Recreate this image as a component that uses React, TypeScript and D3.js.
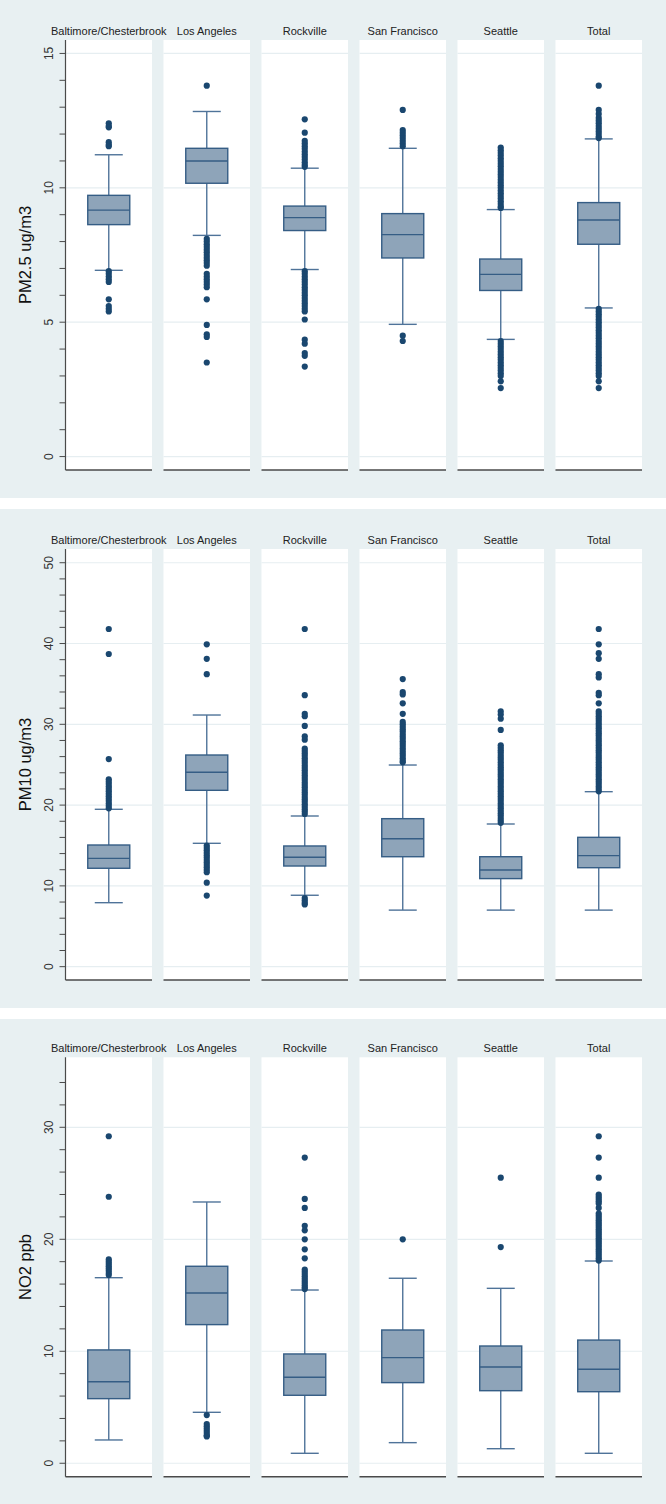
import React from "react";
import * as d3 from "d3";

const sites = ["Baltimore/Chesterbrook", "Los Angeles", "Rockville", "San Francisco", "Seattle", "Total"];

// PM2.5
const pm25Lo = [6.93, 8.23, 6.96, 4.92, 4.36, 5.53];
const pm25Q1 = [8.63, 10.17, 8.41, 7.39, 6.18, 7.9];
const pm25Med = [9.17, 11.0, 8.89, 8.26, 6.78, 8.8];
const pm25Q3 = [9.72, 11.47, 9.32, 9.04, 7.35, 9.45];
const pm25Hi = [11.23, 12.84, 10.73, 11.47, 9.19, 11.82];
const pm25Out = [
  [12.4, 12.3, 12.25, 11.7, 11.6, 11.55, 6.9, 6.8, 6.7, 6.6, 6.5, 5.85, 5.6, 5.5, 5.4],
  [13.8, 8.1, 8.0, 7.9, 7.8, 7.7, 7.6, 7.5, 7.4, 7.3, 7.2, 7.1, 6.8, 6.7, 6.6, 6.5, 6.4, 6.3, 5.85, 4.9, 4.55, 4.45, 3.5],
  [12.55, 12.05, 11.75, 11.65, 11.55, 11.45, 11.35, 11.25, 11.15, 11.05, 10.95, 10.85, 10.78, 6.9, 6.8, 6.7, 6.6, 6.5, 6.4, 6.3, 6.2, 6.1, 6.0, 5.9, 5.8, 5.7, 5.6, 5.5, 5.4, 5.1, 4.35, 4.2, 3.85, 3.75, 3.35],
  [12.9, 12.15, 12.05, 11.95, 11.85, 11.75, 11.65, 11.55, 4.5, 4.3],
  [11.5, 11.4, 11.3, 11.2, 11.1, 11.0, 10.9, 10.8, 10.7, 10.6, 10.5, 10.4, 10.3, 10.2, 10.1, 10.0, 9.9, 9.8, 9.7, 9.6, 9.5, 9.4, 9.3, 9.25, 4.3, 4.2, 4.1, 4.0, 3.9, 3.8, 3.7, 3.6, 3.5, 3.4, 3.3, 3.2, 3.1, 3.0, 2.8, 2.55],
  [13.8, 12.9, 12.75, 12.6, 12.5, 12.4, 12.3, 12.2, 12.1, 12.0, 11.9, 11.85, 5.5, 5.4, 5.3, 5.2, 5.1, 5.0, 4.9, 4.8, 4.7, 4.6, 4.5, 4.4, 4.3, 4.2, 4.1, 4.0, 3.9, 3.8, 3.7, 3.6, 3.5, 3.4, 3.3, 3.2, 3.1, 3.0, 2.8, 2.55],
];

// PM10
const pm10Lo = [7.92, 15.27, 8.84, 7.0, 7.0, 7.0];
const pm10Q1 = [12.18, 21.83, 12.46, 13.61, 10.9, 12.25];
const pm10Med = [13.41, 24.06, 13.54, 15.84, 11.97, 13.74];
const pm10Q3 = [15.06, 26.2, 14.94, 18.32, 13.61, 16.01];
const pm10Hi = [19.48, 31.15, 18.65, 24.96, 17.66, 21.66];
const pm10Out = [
  [41.8, 38.7, 25.7, 23.2, 22.9, 22.6, 22.3, 22.0, 21.7, 21.4, 21.1, 20.8, 20.5, 20.2, 19.9, 19.6],
  [39.9, 38.1, 36.2, 15.0, 14.7, 14.4, 14.1, 13.8, 13.5, 13.2, 12.9, 12.6, 12.3, 12.0, 11.7, 10.4, 8.8],
  [41.8, 33.6, 31.3, 31.0, 29.8, 28.5, 28.1, 27.0, 26.7, 26.4, 26.1, 25.8, 25.5, 25.2, 24.9, 24.6, 24.3, 24.0, 23.7, 23.4, 23.1, 22.8, 22.5, 22.2, 21.9, 21.6, 21.3, 21.0, 20.7, 20.4, 20.1, 19.8, 19.5, 19.2, 18.9, 8.5, 8.2, 7.9, 7.7],
  [35.6, 34.0, 33.7, 32.6, 31.3, 30.3, 30.0, 29.7, 29.4, 29.1, 28.8, 28.5, 28.2, 27.9, 27.6, 27.3, 27.0, 26.7, 26.4, 26.1, 25.8, 25.5, 25.3],
  [31.6, 31.2, 30.7, 29.3, 27.4, 27.1, 26.8, 26.5, 26.2, 25.9, 25.6, 25.3, 25.0, 24.7, 24.4, 24.1, 23.8, 23.5, 23.2, 22.9, 22.6, 22.3, 22.0, 21.7, 21.4, 21.1, 20.8, 20.5, 20.2, 19.9, 19.6, 19.3, 19.0, 18.7, 18.4, 18.1, 17.8],
  [41.8, 39.9, 38.8, 38.1, 36.2, 35.8, 33.9, 33.6, 32.6, 31.6, 31.3, 31.0, 30.7, 30.4, 30.1, 29.8, 29.5, 29.2, 28.9, 28.6, 28.3, 28.0, 27.7, 27.4, 27.1, 26.8, 26.5, 26.2, 25.9, 25.6, 25.3, 25.0, 24.7, 24.4, 24.1, 23.8, 23.5, 23.2, 22.9, 22.6, 22.3, 22.0, 21.7],
];

// NO2
const no2Lo = [2.08, 4.55, 0.89, 1.84, 1.3, 0.89];
const no2Q1 = [5.77, 12.38, 6.07, 7.2, 6.48, 6.39];
const no2Med = [7.28, 15.2, 7.68, 9.43, 8.6, 8.39];
const no2Q3 = [10.12, 17.59, 9.76, 11.9, 10.47, 11.0];
const no2Hi = [16.57, 23.33, 15.47, 16.52, 15.62, 18.06];
const no2Out = [
  [29.2, 23.8, 18.2, 18.0, 17.8, 17.6, 17.4, 17.2, 17.0, 16.8],
  [4.3, 3.5, 3.3, 3.1, 2.9, 2.7, 2.5, 2.4],
  [27.3, 23.6, 22.8, 21.2, 20.8, 20.0, 19.1, 18.3, 17.3, 17.1, 16.9, 16.7, 16.5, 16.3, 16.1, 15.9, 15.7, 15.55],
  [20.0],
  [25.5, 19.3],
  [29.2, 27.3, 25.5, 24.0, 23.8, 23.6, 23.4, 23.2, 22.8, 22.3, 22.1, 21.9, 21.7, 21.5, 21.3, 21.1, 20.9, 20.7, 20.5, 20.3, 20.1, 19.9, 19.7, 19.5, 19.3, 19.1, 18.9, 18.7, 18.5, 18.3, 18.1],
];

const pm25Ticks = d3.range(0, 16, 1);
const pm25Labels = [0, 5, 10, 15];
const pm10Ticks = d3.range(0, 52, 2);
const pm10Labels = [0, 10, 20, 30, 40, 50];
const no2Ticks = d3.range(0, 36, 2);
const no2Labels = [0, 10, 20, 30];

const BG = "#e8f0f2";
const GRID = "#e6eef1";
const AXIS = "#4a4a4a";
const BOX_FILL = "#8ea4b9";
const BOX_STROKE = "#355d85";
const WHISK = "#4f7399";
const DOT = "#1a476f";
const FONT = "'Liberation Sans', Arial, sans-serif";

type PanelProps = {
  top: number;
  bottom: number;
  plotTop: number;
  plotBottom: number;
  domain: [number, number];
  title: string;
  ticks: number[];
  labels: number[];
  lo: number[];
  q1: number[];
  med: number[];
  q3: number[];
  hi: number[];
  out: number[][];
};

function Panel(p: PanelProps) {
  const x = d3.scaleBand<string>().domain(sites).range([65.5, 642]).paddingInner(0.117).paddingOuter(0);
  const y = d3.scaleLinear().domain(p.domain).range([p.plotBottom, p.plotTop]);
  const bw = x.bandwidth();
  const boxW = 42;
  const capW = 28;
  const axisX = x(sites[0])!;
  return (
    <g>
      <rect x={0} y={p.top} width={666} height={p.bottom - p.top} fill={BG} />
      {sites.map((s, i) => {
        const x0 = x(s)!;
        const cx = x0 + bw / 2;
        return (
          <g key={s}>
            <rect x={x0} y={p.plotTop} width={bw} height={p.plotBottom - p.plotTop} fill="#ffffff" />
            {p.labels.map((v) => (
              <line key={v} x1={x0} x2={x0 + bw} y1={y(v)} y2={y(v)} stroke={GRID} strokeWidth={1.2} />
            ))}
            <text x={cx} y={p.plotTop - 5} textAnchor="middle" fontFamily={FONT} fontSize={11} fill="#222">
              {s}
            </text>
            <line x1={cx} x2={cx} y1={y(p.hi[i])} y2={y(p.q3[i])} stroke={WHISK} strokeWidth={1.4} />
            <line x1={cx} x2={cx} y1={y(p.q1[i])} y2={y(p.lo[i])} stroke={WHISK} strokeWidth={1.4} />
            <line x1={cx - capW / 2} x2={cx + capW / 2} y1={y(p.hi[i])} y2={y(p.hi[i])} stroke={WHISK} strokeWidth={1.4} />
            <line x1={cx - capW / 2} x2={cx + capW / 2} y1={y(p.lo[i])} y2={y(p.lo[i])} stroke={WHISK} strokeWidth={1.4} />
            <rect
              x={cx - boxW / 2}
              y={y(p.q3[i])}
              width={boxW}
              height={y(p.q1[i]) - y(p.q3[i])}
              fill={BOX_FILL}
              stroke={BOX_STROKE}
              strokeWidth={1.4}
            />
            <line x1={cx - boxW / 2} x2={cx + boxW / 2} y1={y(p.med[i])} y2={y(p.med[i])} stroke={BOX_STROKE} strokeWidth={1.4} />
            {p.out[i].map((v, k) => (
              <circle key={k} cx={cx} cy={y(v)} r={3.1} fill={DOT} />
            ))}
            <line x1={x0} x2={x0 + bw} y1={p.plotBottom} y2={p.plotBottom} stroke={AXIS} strokeWidth={1.5} />
          </g>
        );
      })}
      <line x1={axisX} x2={axisX} y1={p.plotTop} y2={p.plotBottom} stroke={AXIS} strokeWidth={1.2} />
      {p.ticks.map((v) => (
        <line key={v} x1={axisX - 6} x2={axisX} y1={y(v)} y2={y(v)} stroke={AXIS} strokeWidth={1} />
      ))}
      {p.labels.map((v) => (
        <text
          key={v}
          transform={`translate(${axisX - 13},${y(v)}) rotate(-90)`}
          textAnchor="middle"
          fontFamily={FONT}
          fontSize={12}
          fill="#333"
        >
          {v}
        </text>
      ))}
      <text
        transform={`translate(31,${(p.plotTop + p.plotBottom) / 2}) rotate(-90)`}
        textAnchor="middle"
        fontFamily={FONT}
        fontSize={16.5}
        fill="#111"
      >
        {p.title}
      </text>
    </g>
  );
}

export default function App() {
  return (
    <svg
      width={666}
      height={1504}
      style={{ position: "absolute", left: 0, top: 0, display: "block", background: "#ffffff" }}
    >
      <Panel
        top={0}
        bottom={498}
        plotTop={40}
        plotBottom={470}
        domain={[-0.5, 15.5]}
        title="PM2.5 ug/m3"
        ticks={pm25Ticks}
        labels={pm25Labels}
        lo={pm25Lo}
        q1={pm25Q1}
        med={pm25Med}
        q3={pm25Q3}
        hi={pm25Hi}
        out={pm25Out}
      />
      <Panel
        top={509}
        bottom={1008}
        plotTop={549}
        plotBottom={980}
        domain={[-1.65, 51.7]}
        title="PM10 ug/m3"
        ticks={pm10Ticks}
        labels={pm10Labels}
        lo={pm10Lo}
        q1={pm10Q1}
        med={pm10Med}
        q3={pm10Q3}
        hi={pm10Hi}
        out={pm10Out}
      />
      <Panel
        top={1019}
        bottom={1504}
        plotTop={1057.3}
        plotBottom={1476.7}
        domain={[-1.2, 36.25]}
        title="NO2 ppb"
        ticks={no2Ticks}
        labels={no2Labels}
        lo={no2Lo}
        q1={no2Q1}
        med={no2Med}
        q3={no2Q3}
        hi={no2Hi}
        out={no2Out}
      />
    </svg>
  );
}
